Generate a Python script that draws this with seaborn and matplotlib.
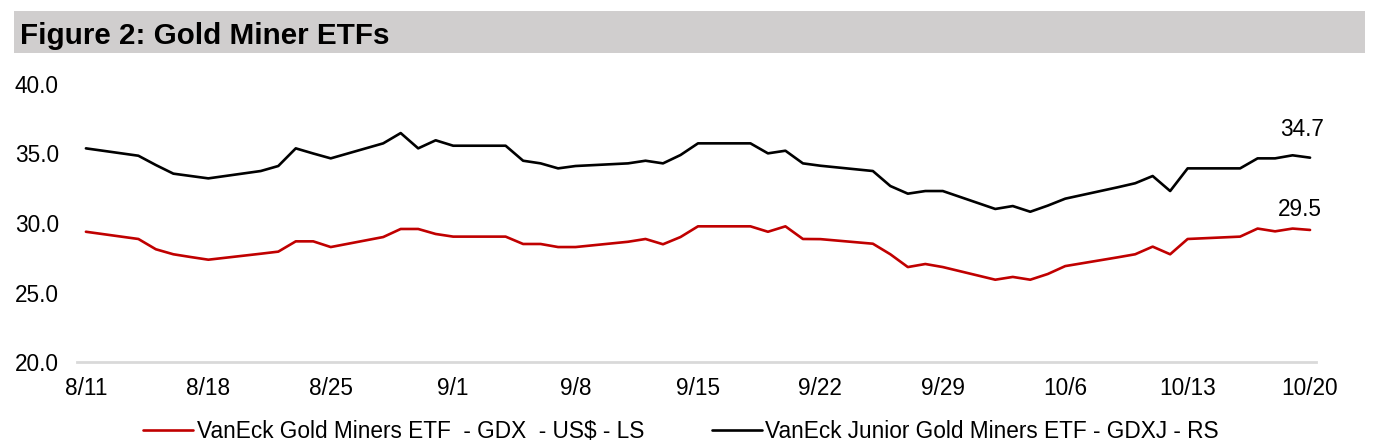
import matplotlib
matplotlib.use("Agg")
import matplotlib.pyplot as plt
import matplotlib.dates as mdates
from matplotlib.patches import Rectangle
import pandas as pd
import seaborn as sns

dates = ["2023-08-11", "2023-08-14", "2023-08-15", "2023-08-16", "2023-08-17", "2023-08-18",
         "2023-08-21", "2023-08-22", "2023-08-23", "2023-08-24", "2023-08-25",
         "2023-08-28", "2023-08-29", "2023-08-30", "2023-08-31", "2023-09-01",
         "2023-09-04", "2023-09-05", "2023-09-06", "2023-09-07", "2023-09-08",
         "2023-09-11", "2023-09-12", "2023-09-13", "2023-09-14", "2023-09-15",
         "2023-09-18", "2023-09-19", "2023-09-20", "2023-09-21", "2023-09-22",
         "2023-09-25", "2023-09-26", "2023-09-27", "2023-09-28", "2023-09-29",
         "2023-10-02", "2023-10-03", "2023-10-04", "2023-10-05", "2023-10-06",
         "2023-10-09", "2023-10-10", "2023-10-11", "2023-10-12", "2023-10-13",
         "2023-10-16", "2023-10-17", "2023-10-18", "2023-10-19", "2023-10-20"]

gdx = [29.37, 28.85, 28.11, 27.75, 27.55, 27.36,
       27.79, 27.94, 28.68, 28.68, 28.27,
       28.99, 29.57, 29.57, 29.21, 29.02,
       29.02, 28.49, 28.49, 28.27, 28.27,
       28.65, 28.85, 28.47, 28.99, 29.76,
       29.76, 29.37, 29.76, 28.85, 28.84,
       28.51, 27.75, 26.83, 27.05, 26.83,
       25.92, 26.12, 25.92, 26.33, 26.90,
       27.53, 27.75, 28.30, 27.75, 28.85,
       29.02, 29.60, 29.40, 29.60, 29.50]

gdxj = [35.37, 34.84, 34.17, 33.55, 33.38, 33.21,
        33.74, 34.10, 35.37, 35.00, 34.65,
        35.73, 36.47, 35.37, 35.95, 35.56,
        35.56, 34.48, 34.29, 33.93, 34.10,
        34.29, 34.48, 34.29, 34.89, 35.73,
        35.73, 35.01, 35.20, 34.29, 34.12,
        33.74, 32.66, 32.11, 32.30, 32.30,
        31.01, 31.22, 30.81, 31.25, 31.75,
        32.57, 32.86, 33.38, 32.30, 33.93,
        33.93, 34.65, 34.65, 34.87, 34.70]

series_names = ["VanEck Gold Miners ETF  - GDX  - US$ - LS",
                "VanEck Junior Gold Miners ETF - GDXJ - RS"]
tick_dates = ["2023-08-11", "2023-08-18", "2023-08-25", "2023-09-01", "2023-09-08",
              "2023-09-15", "2023-09-22", "2023-09-29", "2023-10-06", "2023-10-13",
              "2023-10-20"]
tick_labels = ["8/11", "8/18", "8/25", "9/1", "9/8", "9/15", "9/22", "9/29",
               "10/6", "10/13", "10/20"]
y_ticks = [20, 25, 30, 35, 40]
title = "Figure 2: Gold Miner ETFs"

sns.set_style("white")
plt.rcParams["font.family"] = ["Liberation Sans", "DejaVu Sans"]
plt.rcParams["text.color"] = "black"
plt.rcParams["axes.labelcolor"] = "black"
plt.rcParams["xtick.color"] = "black"
plt.rcParams["ytick.color"] = "black"

W, H = 1381, 448
fig = plt.figure(figsize=(W / 100, H / 100), dpi=100)

# title band
fig.patches.append(Rectangle((14 / W, 1 - 53 / H), (1365 - 14) / W, 42 / H,
                             transform=fig.transFigure, facecolor="#D0CECE",
                             edgecolor="none", zorder=0))
fig.text(20 / W, 1 - 43.5 / H, title, fontsize=21.3, fontweight="bold",
         ha="left", va="baseline", color="black")

ax = fig.add_axes([77 / W, 1 - 362 / H, (1316 - 77) / W, (362 - 84) / H])

df = pd.DataFrame({
    "date": pd.to_datetime(dates * 2),
    "value": gdx + gdxj,
    "series": [series_names[0]] * len(gdx) + [series_names[1]] * len(gdxj),
})

sns.lineplot(data=df, x="date", y="value", hue="series",
             palette={series_names[0]: "#C00000", series_names[1]: "#000000"},
             linewidth=1.9, ax=ax, legend=True)

d0 = mdates.date2num(pd.Timestamp(dates[0]))
d1 = mdates.date2num(pd.Timestamp(dates[-1]))
ax.set_xlim(d0 - 0.51, d1 + 0.34)
ax.set_ylim(20, 40)
ax.set_yticks(y_ticks)
ax.set_yticklabels([f"{v:.1f}" for v in y_ticks])
ax.set_xticks([mdates.date2num(pd.Timestamp(t)) for t in tick_dates])
ax.set_xticklabels(tick_labels)
ax.tick_params(axis="both", length=0, labelsize=16.3, colors="black")
ax.tick_params(axis="y", pad=13)
ax.tick_params(axis="x", pad=11)
ax.set_xlabel("")
ax.set_ylabel("")
for s in ["top", "right", "left"]:
    ax.spines[s].set_visible(False)
ax.spines["bottom"].set_color("#D9D9D9")
ax.spines["bottom"].set_linewidth(2)
ax.grid(False)

# end labels
last = pd.Timestamp(dates[-1])
ax.annotate(f"{gdxj[-1]:.1f}", xy=(last, gdxj[-1]), xytext=(-6, 20.5),
            textcoords="offset points", ha="center", va="center", fontsize=16.3,
            color="black")
ax.annotate(f"{gdx[-1]:.1f}", xy=(last, gdx[-1]), xytext=(-7, 14.5),
            textcoords="offset points", ha="center", va="center", fontsize=16.3,
            color="black")

leg = ax.legend(loc="center", bbox_to_anchor=((681 - 77) / (1316 - 77), (362 - 431) / (362 - 84)),
                ncol=2, frameon=False, fontsize=16.3, handlelength=2.2,
                handletextpad=0.15, columnspacing=3.0, borderaxespad=0,
                labelcolor="black")
for line in leg.get_lines():
    line.set_linewidth(1.9)

fig.savefig("out.png", dpi=100)
